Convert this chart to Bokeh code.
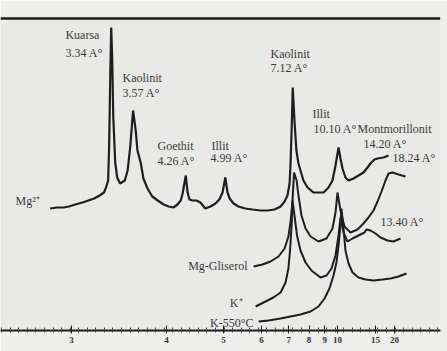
import numpy as np
from bokeh.plotting import figure
from bokeh.models import Range1d, FixedTicker, CustomJSTickFormatter, Span
from bokeh.core.properties import value
from bokeh.embed import file_html
from bokeh.resources import INLINE

# ---- data: d-spacing (Å) and stacked relative intensity (arbitrary units) ----
mg_d = [2.84, 2.89, 2.94, 2.98, 3.03, 3.09, 3.14, 3.19, 3.24, 3.28, 3.30, 3.32, 3.33, 3.34,
        3.35, 3.36, 3.37, 3.39, 3.41, 3.44, 3.49, 3.52, 3.55, 3.58, 3.61, 3.63, 3.67, 3.70,
        3.75, 3.81, 3.88, 3.96, 4.03, 4.10, 4.16, 4.21, 4.24, 4.29, 4.32, 4.35, 4.40, 4.47,
        4.54, 4.63, 4.73, 4.83, 4.91, 4.98, 5.04, 5.09, 5.14, 5.23, 5.35, 5.53, 5.73, 5.97,
        6.20, 6.44, 6.67, 6.83, 6.95, 7.04, 7.08, 7.13, 7.18, 7.26, 7.35, 7.45, 7.55, 7.70,
        7.92, 8.26, 8.57, 8.91, 9.27, 9.58, 9.83, 10.09, 10.27, 10.46, 10.75, 11.07, 11.63,
        12.26, 12.95, 13.57, 14.07, 14.81, 15.41, 16.76, 18.10]
mg_i = [122, 123, 123, 124, 126, 128, 130, 132, 135, 138, 143, 150, 185, 250,
        303, 272, 215, 168, 153, 147, 150, 160, 185, 220, 200, 180, 167, 152,
        142, 134, 130, 126, 124, 123, 126, 130, 137, 155, 138, 131, 130, 130,
        128, 122, 124, 127, 131, 138, 153, 138, 132, 127, 124, 122, 121, 120,
        120, 121, 124, 129, 135, 147, 165, 200, 243, 210, 180, 167, 160, 150,
        143, 138, 138, 138, 143, 150, 165, 183, 172, 162, 153, 150, 152,
        155, 158, 163, 167, 171, 172, 173, 175]

gly_d = [5.76, 6.03, 6.30, 6.59, 6.83, 6.99, 7.08, 7.17, 7.24, 7.36, 7.45, 7.60, 7.81, 8.09,
         8.57, 9.12, 9.58, 9.83, 10.00, 10.27, 10.65, 11.29, 12.13, 12.95, 13.73, 14.62,
         15.41, 16.29, 17.27, 18.10, 19.32, 21.51, 24.78]
gly_i = [64, 66, 69, 74, 82, 94, 108, 130, 158, 150, 135, 115, 102, 94,
         89, 92, 102, 118, 138, 120, 104, 98, 101, 107, 113, 120,
         129, 139, 150, 157, 158, 156, 154]

k_d = [5.82, 6.13, 6.40, 6.67, 6.87, 6.99, 7.06, 7.13, 7.17, 7.26, 7.38, 7.55, 7.81, 8.14,
       8.70, 9.12, 9.50, 9.83, 10.09, 10.27, 10.56, 10.96, 11.52, 12.26, 13.10, 13.40,
       14.07, 15.00, 16.06, 17.81, 19.66, 22.35]
k_i = [24, 29, 33, 38, 48, 62, 80, 105, 130, 115, 95, 80, 68, 60,
       53, 55, 62, 75, 95, 113, 98, 89, 92, 95, 98, 101,
       100, 97, 93, 90, 89, 92]

k550_d = [5.91, 6.23, 6.67, 7.08, 7.55, 8.09, 8.57, 8.98, 9.34, 9.66, 9.91, 10.09, 10.27,
          10.36, 10.56, 10.75, 11.07, 11.52, 12.26, 13.26, 14.62, 16.52, 18.69, 21.51, 25.33]
k550_i = [9, 10, 12, 14, 16, 19, 24, 32, 42, 55, 68, 85, 105,
          122, 102, 80, 67, 58, 53, 51, 50, 51, 52, 54, 57]

tick_d = [3, 4, 5, 6, 7, 8, 9, 10, 15, 20]

peak_labels = ["Kuarsa", "3.34 A°", "Kaolinit", "3.57 A°", "Goethit", "4.26 A°",
               "Illit", "4.99 A°", "Kaolinit", "7.12 A°", "Illit", "10.10 A°",
               "Montmorillonit", "14.20 A°", "18.24 A°", "13.40 A°", "Mg²⁺"]
peak_label_d = [2.953, 2.953, 3.465, 3.465, 3.878, 3.878, 4.75, 4.73, 6.298, 6.298,
                8.201, 8.261, 12.128, 12.955, 19.322, 16.056, 2.615]
peak_label_y = [296, 278, 253, 238, 185, 170, 185, 173, 277, 263, 217, 202,
                202, 187, 173, 109, 130]

trace_labels = ["Mg-Gliserol", "K⁺", "K-550°C"]
trace_label_d = [5.588, 5.455, 5.758]
trace_label_y = [65, 28, 8]

# ---- figure ----
x_of = lambda d: 1.0 / np.asarray(d, dtype=float)

p = figure(width=447, height=351, output_backend="svg", toolbar_location=None,
           x_range=Range1d(451 / 1140, 11 / 1140), y_range=Range1d(0, 315),
           y_axis_location=None, min_border_left=0, min_border_right=7,
           min_border_top=15, min_border_bottom=21)
p.background_fill_color = "#e9e9e7"
p.border_fill_color = "#efefed"
p.outline_line_color = None
p.grid.visible = False

p.add_layout(Span(location=312, dimension="width", line_color="#1c1c1c", line_width=2.5))

lc = "#1e1e1e"
p.line(x_of(mg_d), mg_i, line_color=lc, line_width=2.2)
p.line(x_of(gly_d), gly_i, line_color=lc, line_width=2)
p.line(x_of(k_d), k_i, line_color=lc, line_width=2)
p.line(x_of(k550_d), k550_i, line_color=lc, line_width=2)

p.text(x_of(peak_label_d), peak_label_y, text=peak_labels,
       text_font=value("Liberation Serif"), text_font_size="12px",
       text_color="#3a3a3a", text_baseline="middle", text_align="left")
p.text(x_of(trace_label_d), trace_label_y, text=trace_labels,
       text_font=value("Liberation Serif"), text_font_size="12px",
       text_color="#3a3a3a", text_baseline="middle", text_align="right")

ax = p.xaxis[0]
ax.ticker = FixedTicker(ticks=list(x_of(tick_d)),
                        minor_ticks=list(np.arange(0.012, 0.395, 0.0075)))
ax.formatter = CustomJSTickFormatter(code="return String(Math.round(1/tick));")
ax.axis_line_color = "#1c1c1c"
ax.axis_line_width = 2
ax.major_tick_line_color = "#222"
ax.minor_tick_line_color = "#444"
ax.major_tick_in = 5
ax.major_tick_out = 3
ax.minor_tick_in = 3
ax.minor_tick_out = 2
ax.major_label_standoff = 3
ax.major_label_text_font = "Liberation Serif"
ax.major_label_text_font_size = "9px"
ax.major_label_text_font_style = "bold"
ax.major_label_text_color = "#333"

open("out.html", "w").write(file_html(p, INLINE))
